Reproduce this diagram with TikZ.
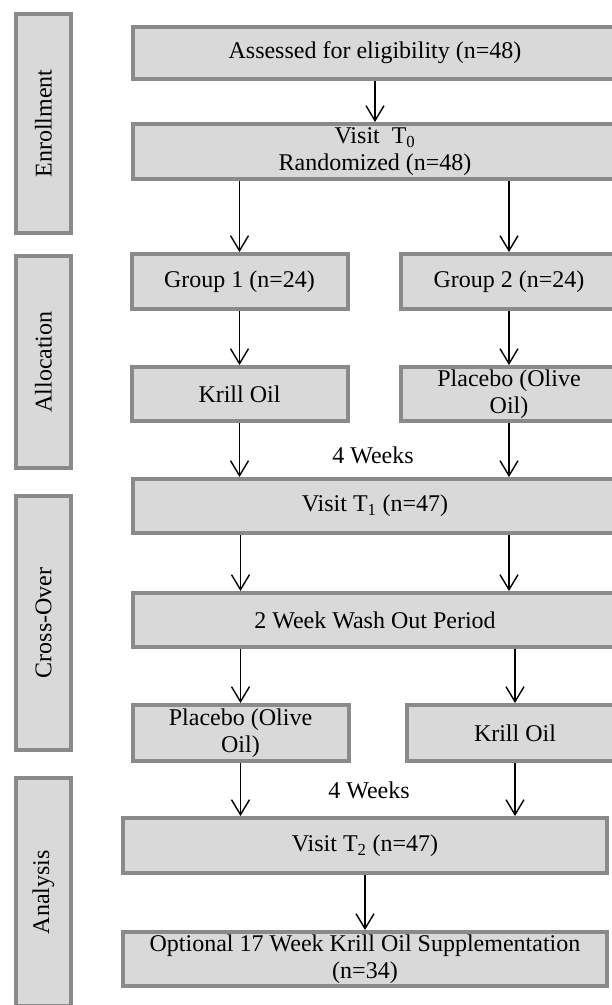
\documentclass[tikz,border=0pt]{standalone}
\usepackage{fontspec}
\setmainfont{Liberation Serif}
\usetikzlibrary{arrows.meta}

\definecolor{boxfill}{HTML}{D9D9D9}
\definecolor{boxline}{HTML}{8A8A8A}

\begin{document}
\begin{tikzpicture}[x=1pt, y=-1pt,
        box/.style={draw=boxline, fill=boxfill, line width=4pt, inner sep=0pt,
                    align=center, font=\fontsize{24}{27}\selectfont},
        wide/.style={box, minimum width=484pt},
        half/.style={box, minimum width=216pt},
        side/.style={box, rotate=90, minimum height=55pt},
        flow/.style={-{Straight Barb[length=15pt,width=18pt]}, line width=1.4pt},
        note/.style={font=\fontsize{24}{27}\selectfont, inner sep=0pt}
    ]
    \useasboundingbox (0,0) rectangle (612,1005);
    \clip (0,0) rectangle (612,1005);

    % phases
    \node[side, minimum width=219pt] (enrol) at (43.5,123.5) {Enrollment};
    \node[side, minimum width=212pt] (alloc) at (43.5,362) {Allocation};
    \node[side, minimum width=254pt] (cross) at (43.5,623) {Cross-Over};
    \node[side, minimum width=228pt] (analys) at (43.5,892) {Analysis};

    % enrollment
    \node[wide, minimum height=52pt] (assess) at (375,53) {Assessed for eligibility (n=48)};
    \node[wide, minimum height=55pt] (visit0) at (375,151.5)
        {Visit~ T\textsubscript{0}\\Randomized (n=48)};

    % allocation
    \node[half, minimum height=55pt] (group1) at (239.5,281.5) {Group 1 (n=24)};
    \node[half, minimum height=55pt] (group2) at (509,281.5) {Group 2 (n=24)};
    \node[half, minimum height=54pt] (krill1) at (239.5,394) {Krill Oil};
    \node[half, minimum height=54pt] (plac1) at (509,394) {Placebo (Olive\\Oil)};
    \node[note] (weeks1) at (373,455) {4 Weeks};

    % cross-over
    \node[wide, minimum height=54pt] (visit1) at (375,506) {Visit T\textsubscript{1} (n=47)};
    \node[wide, minimum height=54pt] (wash) at (375,620) {2 Week Wash Out Period};
    \node[half, minimum height=56pt] (plac2) at (240.5,733) {Placebo (Olive\\Oil)};
    \node[half, minimum height=56pt] (krill2) at (515,733) {Krill Oil};
    \node[note] (weeks2) at (369,790) {4 Weeks};

    % analysis
    \node[wide, minimum height=55pt] (visit2) at (365,845.5) {Visit T\textsubscript{2} (n=47)};
    \node[wide, minimum height=54pt] (option) at (365,959)
        {Optional 17 Week Krill Oil Supplementation\\(n=34)};

    % arrows
    \draw[flow] (assess) -- (visit0);
    \draw[flow] (visit0.south -| group1) -- (group1);
    \draw[flow] (visit0.south -| group2) -- (group2);
    \draw[flow] (group1) -- (krill1);
    \draw[flow] (group2) -- (plac1);
    \draw[flow] (krill1) -- (krill1 |- visit1.north);
    \draw[flow] (plac1) -- (plac1 |- visit1.north);
    \draw[flow] (visit1.south -| plac2) -- (wash.north -| plac2);
    \draw[flow] (visit1.south -| plac1) -- (wash.north -| plac1);
    \draw[flow] (wash.south -| plac2) -- (plac2);
    \draw[flow] (wash.south -| krill2) -- (krill2);
    \draw[flow] (plac2) -- (plac2 |- visit2.north);
    \draw[flow] (krill2) -- (krill2 |- visit2.north);
    \draw[flow] (visit2.south -| option) -- (option);
\end{tikzpicture}
\end{document}
